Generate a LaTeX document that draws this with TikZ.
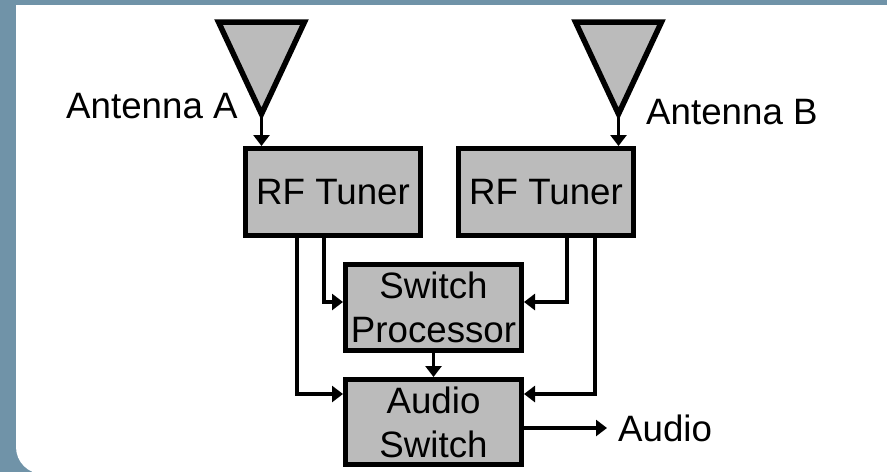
\documentclass[tikz,border=0pt]{standalone}
\usepackage{fontspec}
\setmainfont{Liberation Sans}
\usetikzlibrary{arrows.meta}
\definecolor{slide}{HTML}{7093A8}
\definecolor{boxgray}{HTML}{BBBBBB}
\tikzset{
  block/.style={draw,fill=boxgray,line width=5pt,minimum width=175pt,inner sep=0pt,align=center,font=\fontsize{36.7}{44}\selectfont},
  label/.style={anchor=base west,inner sep=0pt,font=\fontsize{36.7}{44}\selectfont},
  link/.style={line width=3.5pt,-{Triangle[length=11pt,width=16pt]}},
  aerial/.style={fill=boxgray,draw,line width=5.5pt,line join=miter}
}
\begin{document}
\begin{tikzpicture}[x=1pt,y=-1pt]
\useasboundingbox (0,0) rectangle (887,472);
\fill[slide] (0,0) rectangle (887,472);
\fill[white] (16,5) -- (887,5) -- (887,474) -- (43,474) arc (90:180:27) -- cycle;

\node[block,minimum height=87pt] (TunerA) at (333,192) {RF Tuner};
\node[block,minimum height=87pt] (TunerB) at (546,192) {RF Tuner};
\node[block,minimum width=176pt,minimum height=86pt] (Proc) at (433.5,307.5) {Switch\\Processor};
\node[block,minimum width=176pt,minimum height=85pt] (Sw) at (433.5,422) {Audio\\Switch};

\draw[aerial] (218.5,22) -- (304.5,22) -- (261.5,114) -- cycle;
\draw[aerial] (575.5,22) -- (661.5,22) -- (618.5,114) -- cycle;
\coordinate (TipA) at (261.5,114);
\coordinate (TipB) at (618.5,114);
\coordinate (Out) at (607,428);

\node[label] (LabA) at (66,118) {Antenna A};
\node[label] (LabB) at (646,124) {Antenna B};
\node[label] (LabOut) at (618,441) {Audio};

\draw[link] (TipA) -- (TipA |- TunerA.north);
\draw[link] (TipB) -- (TipB |- TunerB.north);
\draw[link] ([xshift=-9pt]TunerA.south) |- ([yshift=5.5pt]Proc.west);
\draw[link] ([xshift=21pt]TunerB.south) |- ([yshift=5.5pt]Proc.east);
\draw[link] ([xshift=-36pt]TunerA.south) |- ([yshift=28pt]Sw.west);
\draw[link] ([xshift=49pt]TunerB.south) |- ([yshift=28pt]Sw.east);
\draw[link] (Proc) -- (Sw);
\draw[link] ([yshift=-6pt]Sw.east) -- (Out);
\end{tikzpicture}
\end{document}
